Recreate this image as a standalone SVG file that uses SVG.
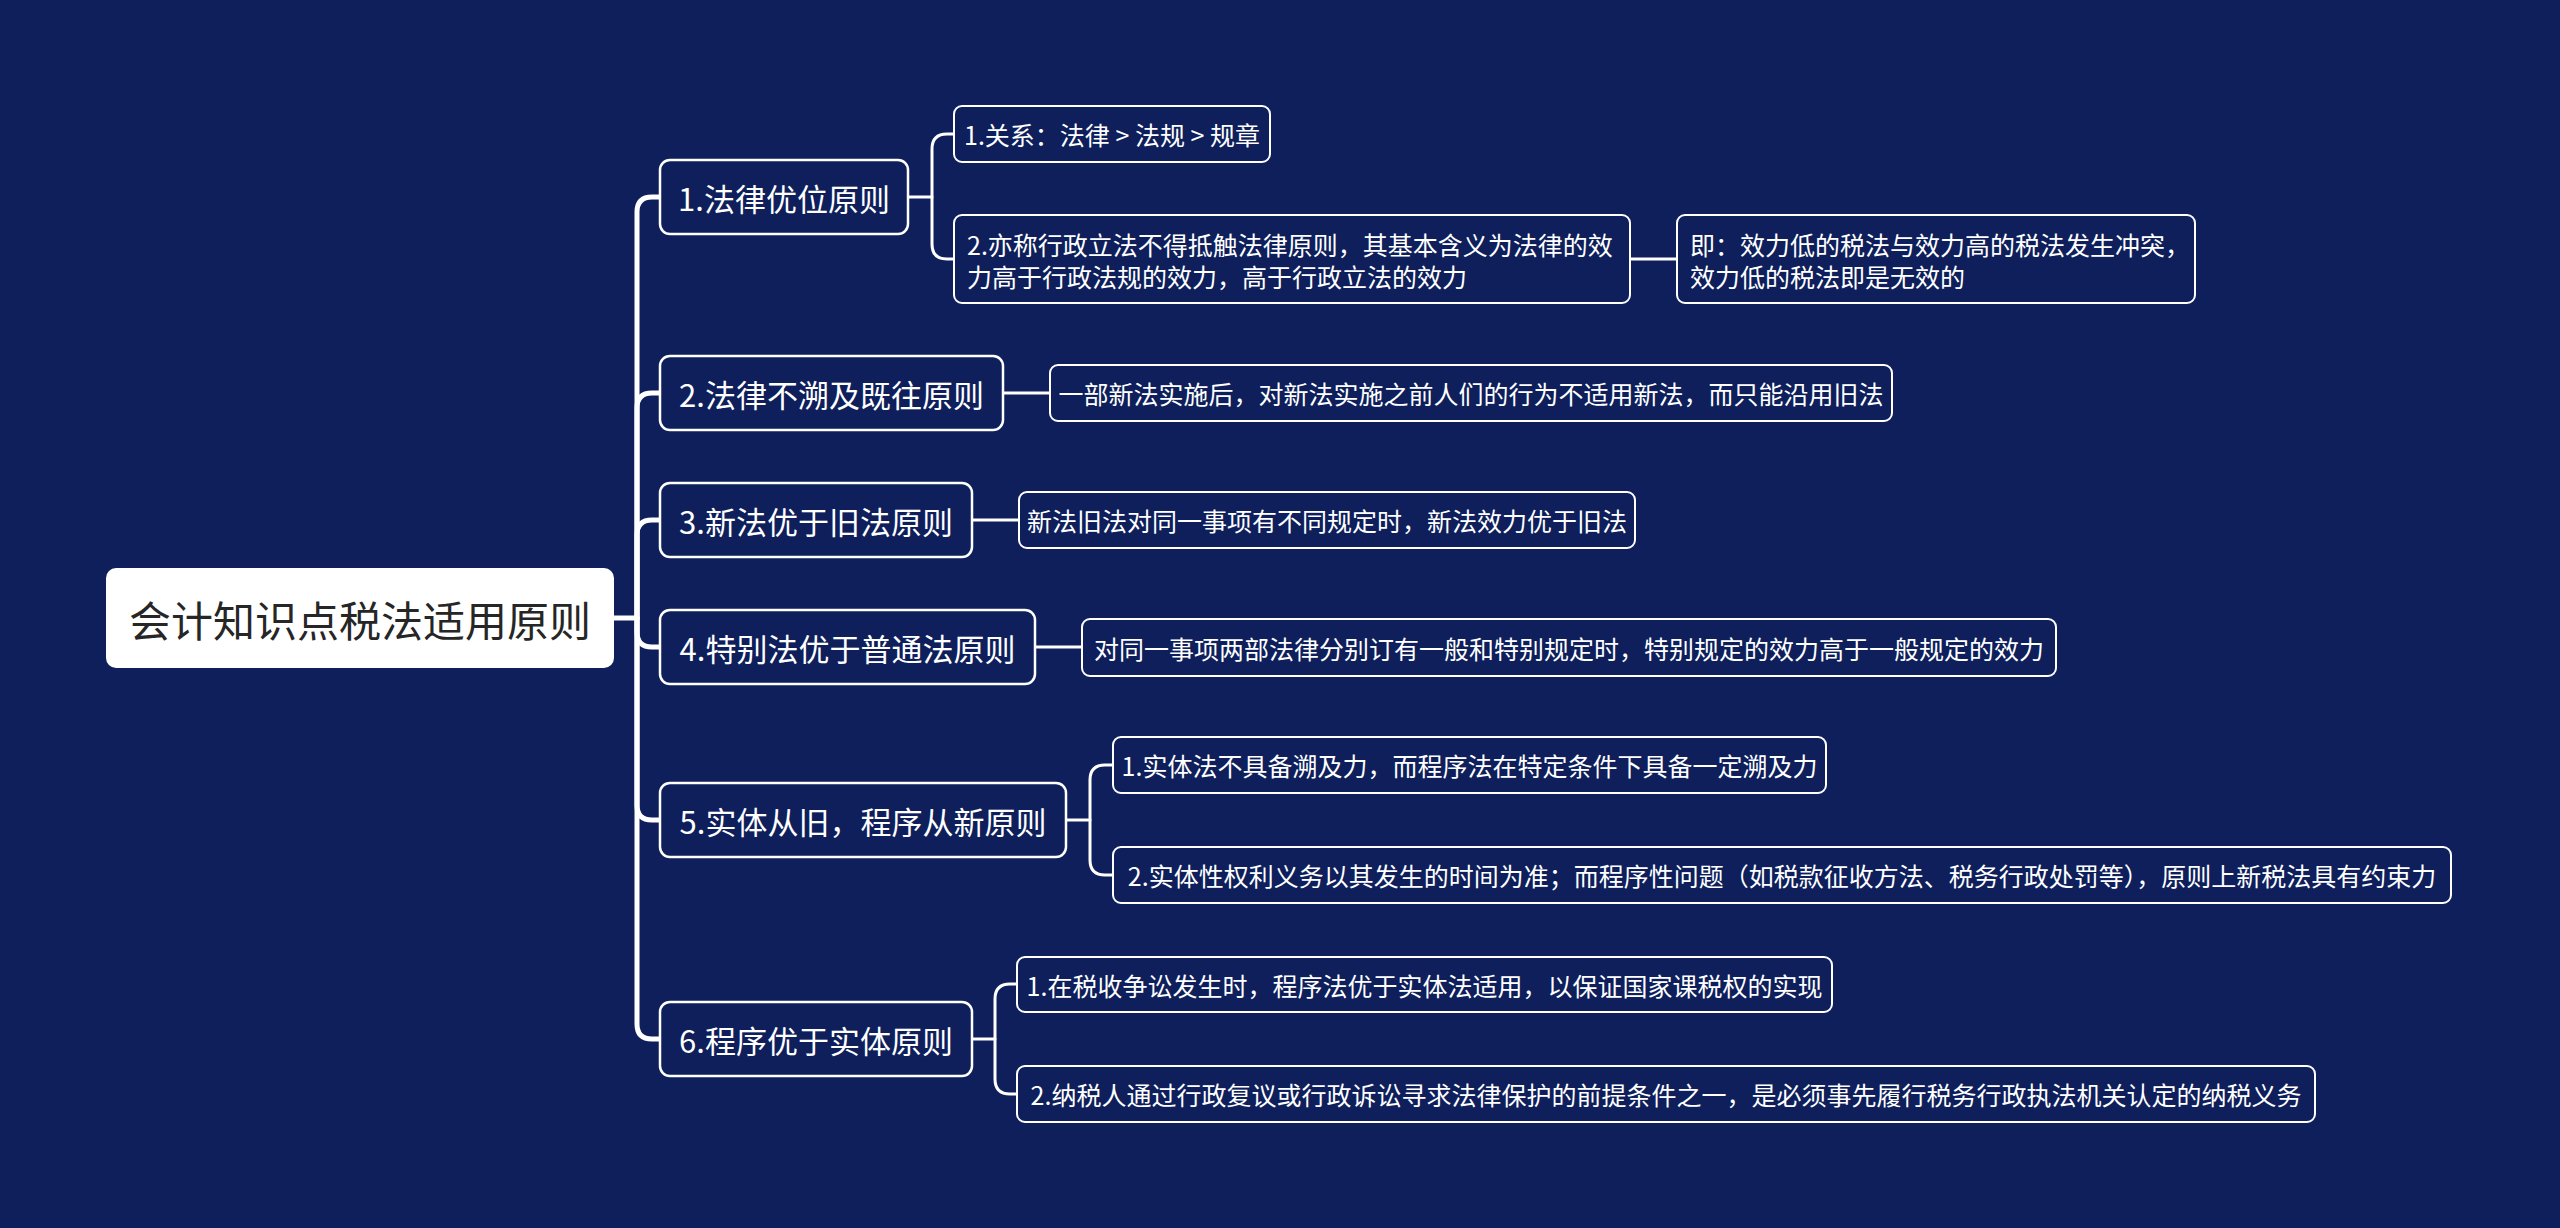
<svg xmlns="http://www.w3.org/2000/svg" width="2560" height="1228" viewBox="0 0 2560 1228">
<style>
.bg{fill:#0e1f5b}
.trunk{fill:none;stroke:#ffffff;stroke-width:5;stroke-linecap:round;stroke-linejoin:round}
.sub{fill:none;stroke:#ffffff;stroke-width:3;stroke-linecap:round;stroke-linejoin:round}
.root rect{fill:#ffffff}
.root text{fill:#262626;font-size:42px}
.n1 rect{fill:#0e1f5b;stroke:#ffffff;stroke-width:2.5}
.n2 rect{fill:#0e1f5b;stroke:#ffffff;stroke-width:2}
text{font-family:"Noto Sans CJK SC","Noto Sans",sans-serif;dominant-baseline:central}
.n1 text{fill:#ffffff;font-size:31px;text-anchor:middle}
.n2 text{fill:#ffffff;font-size:25px}
.c{text-anchor:middle}
</style>
<rect class="bg" x="0" y="0" width="2560" height="1228"/>
<g id="connectors">
<path class="trunk" d="M614,618 H637 V212 Q637,197 652,197 H660"/>
<path class="trunk" d="M637,618 V408 Q637,393 652,393 H660"/>
<path class="trunk" d="M637,618 V535 Q637,520 652,520 H660"/>
<path class="trunk" d="M637,618 V632 Q637,647 652,647 H660"/>
<path class="trunk" d="M637,618 V805 Q637,820 652,820 H660"/>
<path class="trunk" d="M637,618 V1024 Q637,1039 652,1039 H660"/>
<path class="sub" d="M908,197 H932 V149 Q932,134 947,134 H954"/>
<path class="sub" d="M932,197 V244 Q932,259 947,259 H954"/>
<path class="sub" d="M1630,259 H1677"/>
<path class="sub" d="M1003,393 H1050"/>
<path class="sub" d="M972,520 H1019"/>
<path class="sub" d="M1035,647 H1082"/>
<path class="sub" d="M1066,820 H1090 V780 Q1090,765 1105,765 H1113"/>
<path class="sub" d="M1090,820 V860 Q1090,875 1105,875 H1113"/>
<path class="sub" d="M972,1039 H995 V999 Q995,984 1010,984 H1017"/>
<path class="sub" d="M995,1039 V1079 Q995,1094 1010,1094 H1017"/>
</g>
<g id="root" class="root">
<rect x="106" y="568" width="508" height="100" rx="10"/>
<text x="360" y="618" text-anchor="middle">会计知识点税法适用原则</text>
</g>
<g id="b1" class="n1">
<rect x="660" y="160" width="248" height="74" rx="10"/>
<text x="784" y="197">1.法律优位原则</text>
</g>
<g id="b1a" class="n2">
<rect x="954" y="106" width="316" height="56" rx="8"/>
<text class="c" x="1112" y="134">1.关系：法律 &gt; 法规 &gt; 规章</text>
</g>
<g id="b1b" class="n2">
<rect x="954" y="215" width="676" height="88" rx="8"/>
<text x="967" y="244">2.亦称行政立法不得抵触法律原则，其基本含义为法律的效</text>
<text x="967" y="276">力高于行政法规的效力，高于行政立法的效力</text>
</g>
<g id="b1b1" class="n2">
<rect x="1677" y="215" width="518" height="88" rx="8"/>
<text x="1690" y="244">即：效力低的税法与效力高的税法发生冲突，</text>
<text x="1690" y="276">效力低的税法即是无效的</text>
</g>
<g id="b2" class="n1">
<rect x="660" y="356" width="343" height="74" rx="10"/>
<text x="831.5" y="393">2.法律不溯及既往原则</text>
</g>
<g id="b2a" class="n2">
<rect x="1050" y="365" width="842" height="56" rx="8"/>
<text class="c" x="1471" y="393">一部新法实施后，对新法实施之前人们的行为不适用新法，而只能沿用旧法</text>
</g>
<g id="b3" class="n1">
<rect x="660" y="483" width="312" height="74" rx="10"/>
<text x="816" y="520">3.新法优于旧法原则</text>
</g>
<g id="b3a" class="n2">
<rect x="1019" y="492" width="616" height="56" rx="8"/>
<text class="c" x="1327" y="520">新法旧法对同一事项有不同规定时，新法效力优于旧法</text>
</g>
<g id="b4" class="n1">
<rect x="660" y="610" width="375" height="74" rx="10"/>
<text x="847.5" y="647">4.特别法优于普通法原则</text>
</g>
<g id="b4a" class="n2">
<rect x="1082" y="619" width="974" height="57" rx="8"/>
<text class="c" x="1569" y="647.5">对同一事项两部法律分别订有一般和特别规定时，特别规定的效力高于一般规定的效力</text>
</g>
<g id="b5" class="n1">
<rect x="660" y="783" width="406" height="74" rx="10"/>
<text x="863" y="820">5.实体从旧，程序从新原则</text>
</g>
<g id="b5a" class="n2">
<rect x="1113" y="737" width="713" height="56" rx="8"/>
<text class="c" x="1469.5" y="765">1.实体法不具备溯及力，而程序法在特定条件下具备一定溯及力</text>
</g>
<g id="b5b" class="n2">
<rect x="1113" y="847" width="1338" height="56" rx="8"/>
<text class="c" x="1782" y="875">2.实体性权利义务以其发生的时间为准；而程序性问题（如税款征收方法、税务行政处罚等），原则上新税法具有约束力</text>
</g>
<g id="b6" class="n1">
<rect x="660" y="1002" width="312" height="74" rx="10"/>
<text x="816" y="1039">6.程序优于实体原则</text>
</g>
<g id="b6a" class="n2">
<rect x="1017" y="957" width="815" height="55" rx="8"/>
<text class="c" x="1424.5" y="984.5">1.在税收争讼发生时，程序法优于实体法适用，以保证国家课税权的实现</text>
</g>
<g id="b6b" class="n2">
<rect x="1017" y="1066" width="1298" height="56" rx="8"/>
<text class="c" x="1666" y="1094">2.纳税人通过行政复议或行政诉讼寻求法律保护的前提条件之一，是必须事先履行税务行政执法机关认定的纳税义务</text>
</g>
</svg>
